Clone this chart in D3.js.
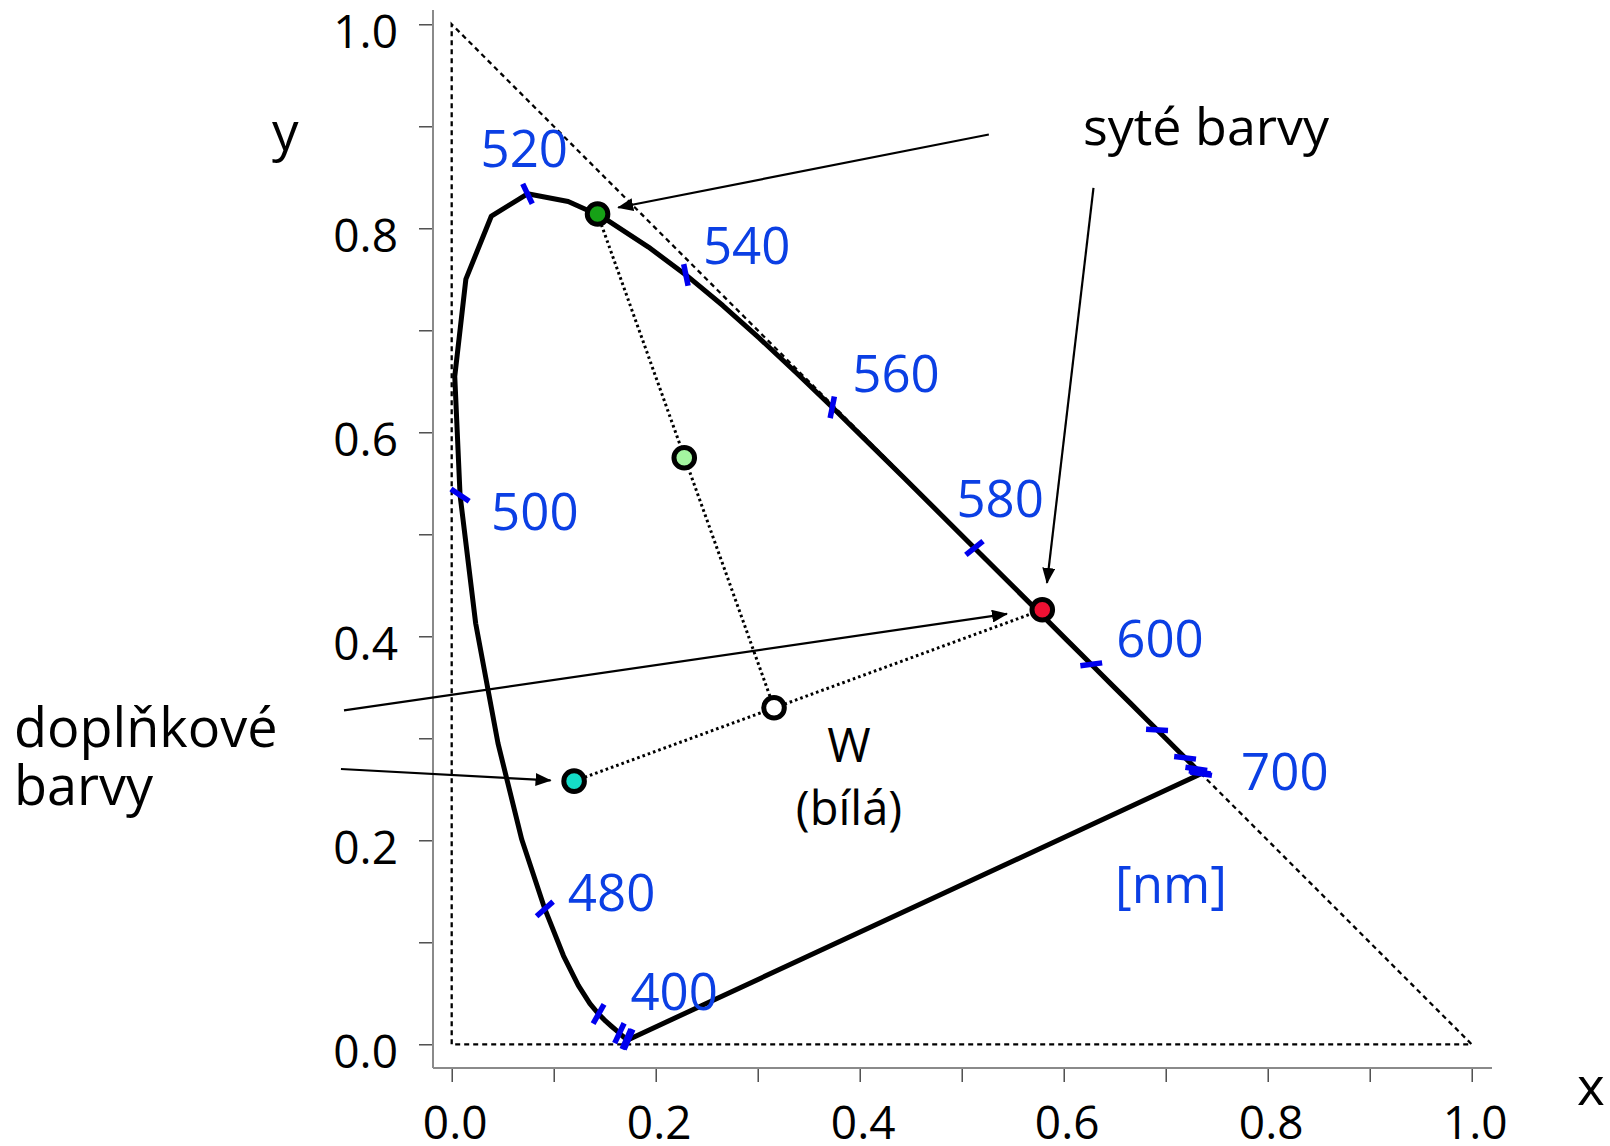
<!DOCTYPE html>
<html>
<head>
<meta charset="utf-8">
<script src="https://cdn.jsdelivr.net/npm/d3@7"></script>
<style>
  html, body { margin: 0; padding: 0; background: #fff; }
  svg { display: block; font-family: "Open Sans", "Noto Sans", sans-serif; }
</style>
</head>
<body>
<div id="chart"></div>
<script>
// spectral locus: wavelength [nm], x, y
const wavelengths = [380, 390, 400, 410, 420, 425, 430, 435, 440, 445, 450, 455, 460, 465, 470, 475, 480, 485, 490, 495,
                     500, 505, 510, 515, 520, 525, 530, 535, 540, 545, 550, 555, 560, 565, 570, 575, 580, 585, 590, 595,
                     600, 605, 610, 615, 620, 625, 630, 640, 650, 660, 680, 700];
const locusX = [0.1741, 0.1738, 0.1733, 0.1726, 0.1714, 0.1703, 0.1689, 0.1669, 0.1644, 0.1611, 0.1566, 0.1510, 0.1440, 0.1355, 0.1241, 0.1096, 0.0913, 0.0687, 0.0454, 0.0235,
                0.0082, 0.0030, 0.0139, 0.0389, 0.0743, 0.1142, 0.1480, 0.1929, 0.2296, 0.2658, 0.3016, 0.3373, 0.3731, 0.4087, 0.4441, 0.4788, 0.5125, 0.5448, 0.5752, 0.6029,
                0.6270, 0.6482, 0.6658, 0.6801, 0.6915, 0.7006, 0.7079, 0.7190, 0.7260, 0.7300, 0.7334, 0.7347];
const locusY = [0.0050, 0.0049, 0.0048, 0.0048, 0.0051, 0.0058, 0.0069, 0.0086, 0.0109, 0.0138, 0.0177, 0.0227, 0.0297, 0.0399, 0.0578, 0.0868, 0.1327, 0.2007, 0.2950, 0.4127,
                0.5384, 0.6548, 0.7502, 0.8120, 0.8338, 0.8262, 0.8110, 0.7816, 0.7543, 0.7243, 0.6923, 0.6589, 0.6245, 0.5896, 0.5547, 0.5202, 0.4866, 0.4544, 0.4242, 0.3965,
                0.3725, 0.3514, 0.3340, 0.3197, 0.3083, 0.2993, 0.2920, 0.2809, 0.2740, 0.2700, 0.2666, 0.2653];

// blue marks on the locus, and the ones with a number
const tickNm = [400, 420, 440, 460, 480, 500, 520, 540, 560, 580, 600, 620, 640, 660, 680, 700];
const labelNm = [400, 480, 500, 520, 540, 560, 580, 600, 700];

// points: name, x, y, fill
const pointNames = ['green', 'lightgreen', 'white', 'red', 'cyan'];
const pointX = [0.143, 0.228, 0.316, 0.579, 0.120];
const pointY = [0.814, 0.575, 0.330, 0.426, 0.258];
const pointFill = ['#16a116', '#a4f5a0', '#ffffff', '#ee1133', '#14dcc8'];

// dotted connecting lines (indexes into points)
const dottedPairs = [[0, 2], [4, 3]];

// arrows: from [x,y] to [x,y] in chart units
const arrowFrom = [[0.5266, 0.892], [0.6292, 0.8396], [-0.1056, 0.3273], [-0.1086, 0.2699]];
const arrowTo = [[0.1632, 0.8204], [0.5836, 0.4523], [0.5444, 0.4219], [0.0969, 0.2587]];

const axisTicks = [0, 0.1, 0.2, 0.3, 0.4, 0.5, 0.6, 0.7, 0.8, 0.9, 1.0];
const axisLabels = ['0.0', '', '0.2', '', '0.4', '', '0.6', '', '0.8', '', '1.0'];

const W = 1610, H = 1146;
const x = d3.scaleLinear().domain([0, 1]).range([451.7, 1471.7]);
const y = d3.scaleLinear().domain([0, 1]).range([1044.3, 24.3]);

const svg = d3.select('#chart').append('svg').attr('width', W).attr('height', H);

const defs = svg.append('defs');
defs.append('marker')
    .attr('id', 'arrow')
    .attr('viewBox', '0 0 16 13')
    .attr('markerWidth', 16).attr('markerHeight', 13)
    .attr('refX', 15).attr('refY', 6.5)
    .attr('orient', 'auto')
    .attr('markerUnits', 'userSpaceOnUse')
    .append('path').attr('d', 'M0,0 L16,6.5 L0,13 Z').attr('fill', '#000');

// axes
const axisY = d3.axisLeft(y).tickValues(axisTicks).tickSize(14).tickPadding(21)
    .tickFormat((d, i) => axisLabels[i]);
const axisX = d3.axisBottom(x).tickValues(axisTicks).tickSize(14).tickPadding(24)
    .tickFormat((d, i) => axisLabels[i]);

const gy = svg.append('g').attr('transform', 'translate(433,0)').call(axisY);
const gx = svg.append('g').attr('transform', 'translate(0,1068)').call(axisX);
[gy, gx].forEach(g => {
  g.select('.domain').remove();
  g.selectAll('.tick line').attr('stroke', '#333').attr('stroke-width', 1.3);
  g.selectAll('.tick text').attr('fill', '#000').style('font-size', '46px').style('font-family', '"Open Sans", sans-serif');
});
gy.selectAll('.tick text').attr('dy', '0.51em');
gx.selectAll('.tick text').attr('dx', 3);

svg.append('line').attr('x1', 433).attr('x2', 433).attr('y1', 10).attr('y2', 1068)
    .attr('stroke', '#8a8a8a').attr('stroke-width', 2);
svg.append('line').attr('x1', 433).attr('x2', 1492).attr('y1', 1068).attr('y2', 1068)
    .attr('stroke', '#8a8a8a').attr('stroke-width', 2);

svg.append('text').attr('x', 272).attr('y', 150).text('y')
    .style('font-size', '53px');
svg.append('text').attr('x', 1577).attr('y', 1105).text('x')
    .style('font-size', '53px');

// dashed triangle x + y <= 1
const tri = [[0, 0], [0, 1], [1, 0]];
svg.append('path')
    .attr('d', d3.line().x(d => x(d[0])).y(d => y(d[1]))(tri) + 'Z')
    .attr('fill', 'none').attr('stroke', '#000').attr('stroke-width', 2.3)
    .attr('stroke-dasharray', '5,4');

// spectral locus + purple line
const locus = wavelengths.map((nm, i) => ({ nm, x: locusX[i], y: locusY[i] }));
const byNm = new Map(locus.map(d => [d.nm, d]));
svg.append('path')
    .attr('d', d3.line().x(d => x(d.x)).y(d => y(d.y))(locus) + 'Z')
    .attr('fill', 'none').attr('stroke', '#000').attr('stroke-width', 5)
    .attr('stroke-linejoin', 'round');

// dotted lines through white point
const pts = pointNames.map((n, i) => ({ name: n, x: pointX[i], y: pointY[i], fill: pointFill[i] }));
svg.append('g').selectAll('line').data(dottedPairs).join('line')
    .attr('x1', d => x(pts[d[0]].x)).attr('y1', d => y(pts[d[0]].y))
    .attr('x2', d => x(pts[d[1]].x)).attr('y2', d => y(pts[d[1]].y))
    .attr('stroke', '#000').attr('stroke-width', 3).attr('stroke-dasharray', '2.6,3');

// blue wavelength ticks, pointing at the white point
const wp = pts[2];
svg.append('g').selectAll('line').data(tickNm).join('line')
    .each(function (nm) {
      const p = byNm.get(nm);
      const px = x(p.x), py = y(p.y);
      const dx = x(wp.x) - px, dy = y(wp.y) - py;
      const len = Math.hypot(dx, dy), ux = dx / len * 11, uy = dy / len * 11;
      d3.select(this).attr('x1', px - ux).attr('y1', py - uy).attr('x2', px + ux).attr('y2', py + uy);
    })
    .attr('stroke', '#0000ee').attr('stroke-width', 5.5);

// wavelength numbers, offset from their tick in px
const labelOffset = { 400: [2, -29], 480: [23, 2], 500: [31, 35], 520: [-47, -27], 540: [17, -11],
                      560: [20, -15], 580: [-18, -31], 600: [25, -7], 700: [40, 16] };
svg.append('g').selectAll('text').data(labelNm).join('text')
    .attr('x', d => x(byNm.get(d).x) + labelOffset[d][0])
    .attr('y', d => y(byNm.get(d).y) + labelOffset[d][1])
    .attr('fill', '#0b3fe4').style('font-size', '51px')
    .text(d => d);
svg.append('text').attr('x', 1115).attr('y', 903).attr('fill', '#0b3fe4')
    .style('font-size', '51px').text('[nm]');

// arrows
svg.append('g').selectAll('line').data(arrowFrom).join('line')
    .attr('x1', d => x(d[0])).attr('y1', d => y(d[1]))
    .attr('x2', (d, i) => x(arrowTo[i][0])).attr('y2', (d, i) => y(arrowTo[i][1]))
    .attr('stroke', '#000').attr('stroke-width', 2.2)
    .attr('marker-end', 'url(#arrow)');

// points
svg.append('g').selectAll('circle').data(pts).join('circle')
    .attr('cx', d => x(d.x)).attr('cy', d => y(d.y)).attr('r', 10.3)
    .attr('fill', d => d.fill).attr('stroke', '#000').attr('stroke-width', 5);

// annotations
svg.append('text').attr('x', 1083).attr('y', 145).style('font-size', '52px').text('syté barvy');
svg.append('text').attr('x', 14).attr('y', 747).style('font-size', '54px').text('doplňkové');
svg.append('text').attr('x', 14).attr('y', 805).style('font-size', '54px').text('barvy');
svg.append('text').attr('x', 849).attr('y', 762).attr('text-anchor', 'middle').style('font-size', '47px').text('W');
svg.append('text').attr('x', 849).attr('y', 825).attr('text-anchor', 'middle').style('font-size', '47px').text('(bílá)');
</script>
</body>
</html>
